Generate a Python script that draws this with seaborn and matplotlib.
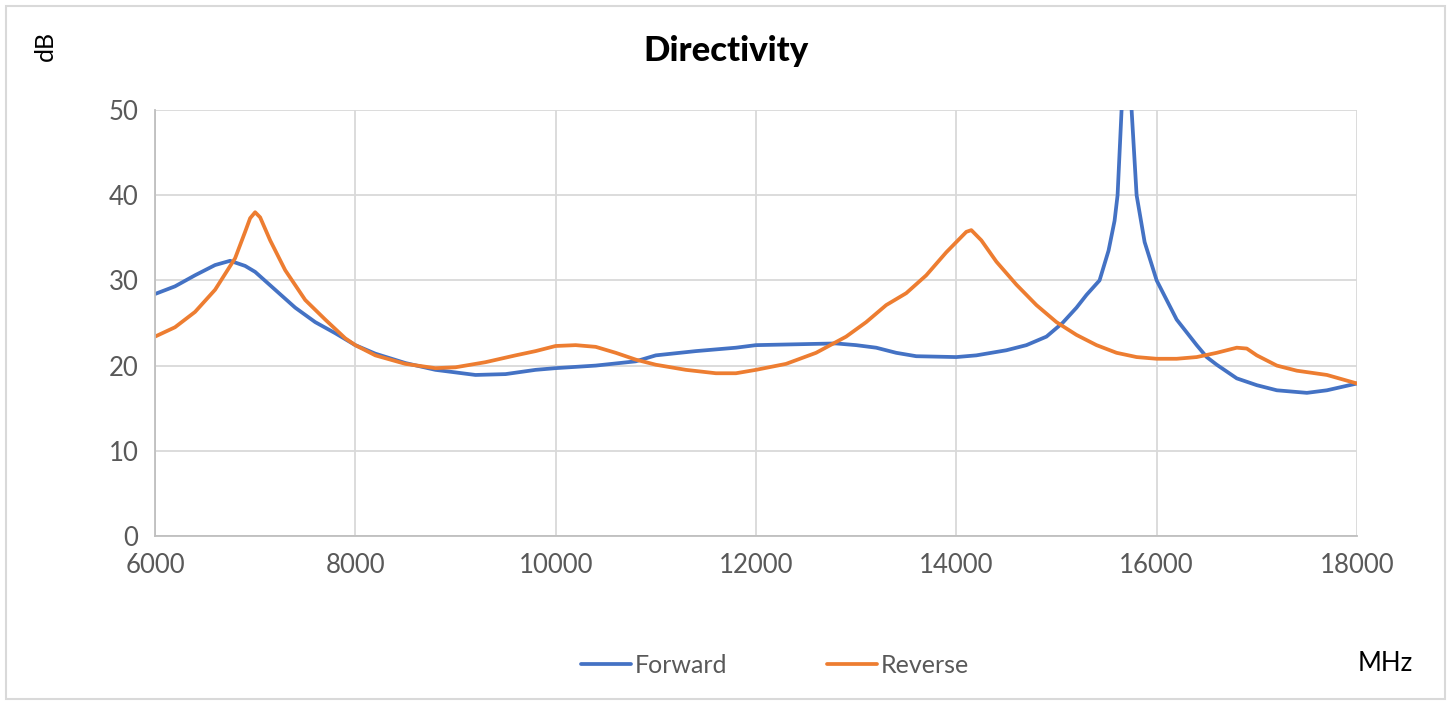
import seaborn as sns
import matplotlib.pyplot as plt
import pandas as pd
from matplotlib.patches import Rectangle
from matplotlib.lines import Line2D

# frequency (MHz) and directivity (dB)
fwd_freq = [6000, 6200, 6400, 6600, 6750, 6900, 7000, 7200, 7400, 7600, 7800,
            8000, 8200, 8500, 8800, 9000, 9200, 9500, 9800, 10000, 10400, 10800,
            11000, 11400, 11800, 12000, 12400, 12800, 13000, 13200, 13400, 13600,
            14000, 14200, 14500, 14700, 14900, 15060, 15200, 15300, 15430, 15520,
            15580, 15610, 15650, 15700, 15750, 15800, 15880, 16000, 16200, 16400,
            16500, 16600, 16800, 17000, 17200, 17500, 17700, 18000]
fwd_db = [28.4, 29.3, 30.6, 31.8, 32.3, 31.7, 31.0, 28.9, 26.8, 25.1, 23.8,
          22.4, 21.4, 20.3, 19.5, 19.2, 18.9, 19.0, 19.5, 19.7, 20.0, 20.5,
          21.2, 21.7, 22.1, 22.4, 22.5, 22.6, 22.4, 22.1, 21.5, 21.1,
          21.0, 21.2, 21.8, 22.4, 23.4, 25.0, 26.8, 28.3, 30.0, 33.5,
          37.0, 40.0, 50.0, 62.0, 50.0, 40.0, 34.5, 30.0, 25.4, 22.4,
          21.0, 20.1, 18.5, 17.7, 17.1, 16.8, 17.1, 17.9]

rev_freq = [6000, 6200, 6400, 6600, 6800, 6900, 6950, 7000, 7050, 7150, 7300,
            7500, 7700, 7900, 8000, 8200, 8500, 8800, 9000, 9300, 9600, 9800,
            10000, 10200, 10400, 10600, 10800, 11000, 11300, 11600, 11800, 12000,
            12300, 12600, 12900, 13100, 13300, 13500, 13700, 13900, 14100, 14150,
            14250, 14400, 14600, 14800, 15000, 15200, 15400, 15600, 15800, 16000,
            16200, 16400, 16600, 16800, 16900, 17000, 17200, 17400, 17700, 18000]
rev_db = [23.4, 24.5, 26.3, 28.9, 32.6, 35.7, 37.3, 38.0, 37.4, 34.7, 31.2,
          27.7, 25.4, 23.2, 22.4, 21.2, 20.2, 19.7, 19.8, 20.4, 21.2, 21.7,
          22.3, 22.4, 22.2, 21.5, 20.7, 20.1, 19.5, 19.1, 19.1, 19.5,
          20.2, 21.5, 23.4, 25.1, 27.1, 28.5, 30.6, 33.3, 35.7, 35.9,
          34.7, 32.2, 29.5, 27.1, 25.1, 23.6, 22.4, 21.5, 21.0, 20.8,
          20.8, 21.0, 21.5, 22.1, 22.0, 21.2, 20.0, 19.4, 18.9, 17.9]

df = pd.concat([
    pd.DataFrame({"MHz": fwd_freq, "dB": fwd_db, "series": "Forward"}),
    pd.DataFrame({"MHz": rev_freq, "dB": rev_db, "series": "Reverse"}),
])

sns.set_style("white")
plt.rcParams['font.family'] = ['Lato', 'DejaVu Sans']

fig = plt.figure(figsize=(14.51, 7.02), dpi=100)
ax = fig.add_axes([0.1068, 0.2365, 0.8284, 0.6068])

sns.lineplot(data=df, x="MHz", y="dB", hue="series", ax=ax,
             palette={"Forward": "#4472C4", "Reverse": "#ED7D31"},
             linewidth=2.7, legend=False, sort=False)

ax.set_xlim(6000, 18000)
ax.set_ylim(0, 50)
ax.set_xticks(range(6000, 18001, 2000))
ax.set_yticks(range(0, 51, 10))
ax.grid(True, color="#D9D9D9", linewidth=1.3)
ax.set_axisbelow(True)
for s in ["top", "right"]:
    ax.spines[s].set_visible(False)
for s in ["left", "bottom"]:
    ax.spines[s].set_color("#BFBFBF")
    ax.spines[s].set_linewidth(1.3)
ax.tick_params(length=0, labelsize=18.5, colors="#595959", pad=12)
ax.set_xlabel("")
ax.set_ylabel("")

fig.text(0.5, 0.928, "Directivity", ha="center", va="center",
         fontsize=25, fontweight="black", color="black")
fig.text(0.031, 0.935, "dB", rotation=90, ha="center", va="center",
         fontsize=18, color="black")
fig.text(0.955, 0.055, "MHz", ha="center", va="center", fontsize=18.5,
         color="black")

# legend
handles = [Line2D([], [], color="#4472C4", lw=2.7),
           Line2D([], [], color="#ED7D31", lw=2.7)]
fig.legend(handles, ["Forward", "Reverse"], loc="center",
           bbox_to_anchor=(0.534, 0.052), ncol=2, frameon=False,
           fontsize=18, handlelength=2.0, handletextpad=0.15,
           columnspacing=4.0, labelcolor="#595959")

fig.patches.append(Rectangle((0.004, 0.004), 0.992, 0.988,
                             transform=fig.transFigure, fill=False,
                             edgecolor="#D9D9D9", linewidth=1.5))

fig.savefig("out.png", dpi=100)
